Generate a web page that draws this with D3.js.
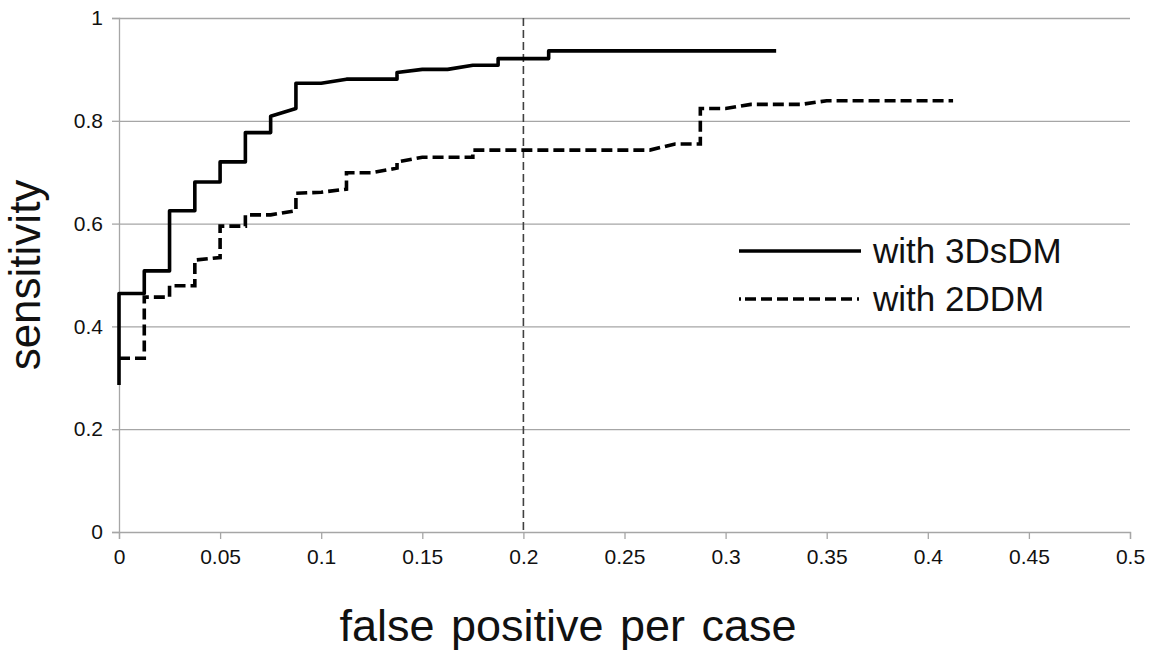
<!DOCTYPE html>
<meta charset="utf-8">
<style>
body{ margin:0; background:#fff; }
svg{ font-family:"Liberation Sans", Arial, sans-serif; }
</style>
<body>
<script src="https://d3js.org/d3.v7.min.js"></script>
<script>
// false positive per case / sensitivity
var fp3D   = [0, 0, 0.0125, 0.0125, 0.025, 0.025, 0.0375, 0.0375, 0.05, 0.05, 0.0625, 0.0625, 0.075, 0.075, 0.0875, 0.0875, 0.1, 0.1125, 0.1375, 0.1375, 0.15, 0.1625, 0.175, 0.1875, 0.1875, 0.2125, 0.2125, 0.325];
var sens3D = [0.286, 0.464, 0.464, 0.508, 0.508, 0.625, 0.625, 0.681, 0.681, 0.720, 0.720, 0.777, 0.777, 0.809, 0.824, 0.873, 0.873, 0.881, 0.881, 0.894, 0.900, 0.900, 0.908, 0.908, 0.921, 0.921, 0.936, 0.936];

var fp2D   = [0, 0.0125, 0.0125, 0.025, 0.025, 0.0375, 0.0375, 0.05, 0.05, 0.0625, 0.0625, 0.075, 0.0875, 0.0875, 0.1, 0.1125, 0.1125, 0.125, 0.1375, 0.1375, 0.15, 0.175, 0.175, 0.2625, 0.275, 0.2875, 0.2875, 0.3, 0.3125, 0.3375, 0.35, 0.4125];
var sens2D = [0.338, 0.338, 0.457, 0.457, 0.479, 0.479, 0.529, 0.534, 0.595, 0.595, 0.617, 0.617, 0.625, 0.659, 0.661, 0.667, 0.699, 0.699, 0.708, 0.720, 0.729, 0.729, 0.743, 0.743, 0.755, 0.755, 0.824, 0.824, 0.832, 0.832, 0.839, 0.839];

var seriesNames = ["with 3DsDM", "with 2DDM"];
var xTicks = [0, 0.05, 0.1, 0.15, 0.2, 0.25, 0.3, 0.35, 0.4, 0.45, 0.5];
var yTicks = [0, 0.2, 0.4, 0.6, 0.8, 1];
var refLine = 0.2;

var w = 1152, h = 661;
var svg = d3.select("body").append("svg").attr("width", w).attr("height", h);

var x = d3.scaleLinear().domain([0, 0.5]).range([119, 1130]);
var y = d3.scaleLinear().domain([0, 1]).range([532, 18]);

var fmt = function(d) { return String(+d.toFixed(2)); };

// horizontal gridlines
svg.append("g")
  .attr("transform", "translate(" + x(0) + ",0)")
  .call(d3.axisLeft(y).tickValues(yTicks.slice(1)).tickSize(-(x(0.5) - x(0))).tickFormat(""))
  .call(function(g) {
    g.select(".domain").remove();
    g.selectAll("line").attr("stroke", "#a6a6a6").attr("stroke-width", 1.3);
  });

// y axis
svg.append("g")
  .attr("transform", "translate(" + x(0) + ",0)")
  .call(d3.axisLeft(y).tickValues(yTicks).tickSize(7).tickPadding(9).tickFormat(fmt))
  .call(function(g) {
    g.select(".domain").attr("stroke", "#a6a6a6").attr("stroke-width", 1.3);
    g.selectAll("line").attr("stroke", "#a6a6a6").attr("stroke-width", 1.3);
    g.selectAll("text").attr("font-size", 21).attr("fill", "#111")
      .attr("font-family", "Liberation Sans, Arial, sans-serif");
  });

// x axis
svg.append("g")
  .attr("transform", "translate(0," + y(0) + ")")
  .call(d3.axisBottom(x).tickValues(xTicks).tickSize(7).tickPadding(10).tickFormat(fmt))
  .call(function(g) {
    g.select(".domain").attr("stroke", "#a6a6a6").attr("stroke-width", 1.3);
    g.selectAll("line").attr("stroke", "#a6a6a6").attr("stroke-width", 1.3);
    g.selectAll("text").attr("font-size", 21).attr("fill", "#111")
      .attr("font-family", "Liberation Sans, Arial, sans-serif");
  });

// reference line at 0.2 fp/case
svg.append("line")
  .attr("x1", x(refLine)).attr("x2", x(refLine))
  .attr("y1", y(1)).attr("y2", y(0))
  .attr("stroke", "#404040")
  .attr("stroke-width", 1.6)
  .attr("stroke-dasharray", "8,4");

var line = d3.line()
  .x(function(d) { return x(d[0]); })
  .y(function(d) { return y(d[1]); });

var data3D = d3.zip(fp3D, sens3D);
var data2D = d3.zip(fp2D, sens2D);

svg.append("path")
  .datum(data3D)
  .attr("d", line)
  .attr("fill", "none")
  .attr("stroke", "#000")
  .attr("stroke-width", 3.6)
  .attr("stroke-linejoin", "round");

svg.append("path")
  .datum(data2D)
  .attr("d", line)
  .attr("fill", "none")
  .attr("stroke", "#000")
  .attr("stroke-width", 3.6)
  .attr("stroke-dasharray", "11,5");

// legend
var legend = svg.append("g");
var legendY = [251, 299];
legend.selectAll(".lgLine")
  .data(seriesNames)
  .enter().append("line")
  .attr("class", "lgLine")
  .attr("x1", 739).attr("x2", 861)
  .attr("y1", function(d, i) { return legendY[i]; })
  .attr("y2", function(d, i) { return legendY[i]; })
  .attr("stroke", "#000")
  .attr("stroke-width", 3.6)
  .attr("stroke-dasharray", function(d, i) { return i == 1 ? "2,4,11,5,11,5,11,5,11,5,11,5,11,5,11,5" : null; });

legend.selectAll(".lgText")
  .data(seriesNames)
  .enter().append("text")
  .attr("class", "lgText")
  .attr("x", 873)
  .attr("y", function(d, i) { return legendY[i] + 12; })
  .attr("font-size", 35)
  .attr("fill", "#111")
  .text(function(d) { return d; });

// axis titles
svg.append("text")
  .attr("x", 568).attr("y", 641)
  .attr("text-anchor", "middle")
  .attr("font-size", 45)
  .attr("word-spacing", 4)
  .attr("fill", "#111")
  .text("false positive per case");

svg.append("text")
  .attr("transform", "translate(40,275) rotate(-90)")
  .attr("text-anchor", "middle")
  .attr("font-size", 44)
  .attr("fill", "#111")
  .text("sensitivity");
</script>
</body>
